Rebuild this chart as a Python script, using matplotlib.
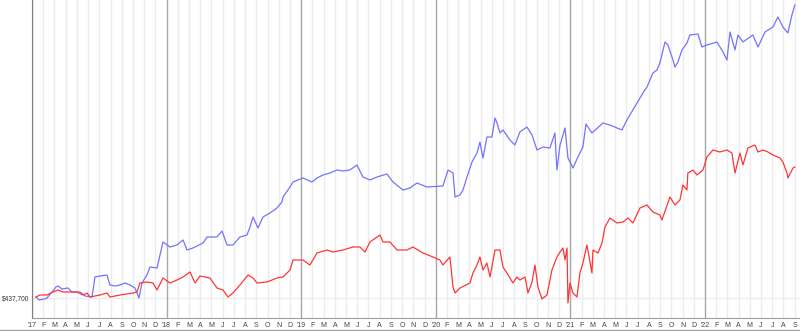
import matplotlib
matplotlib.use("Agg")
import matplotlib.pyplot as plt
from matplotlib.lines import Line2D

# time in years since 1 Jan 2017, value in $ thousands
blue_t = [0.030, 0.052, 0.089, 0.111, 0.149, 0.178, 0.193, 0.223, 0.267, 0.297,
          0.357, 0.394, 0.446, 0.468, 0.505, 0.557, 0.579, 0.617, 0.654, 0.691,
          0.728, 0.765, 0.795, 0.817, 0.854, 0.877, 0.929, 0.973, 1.025, 1.077,
          1.122, 1.152, 1.196, 1.270, 1.300, 1.374, 1.412, 1.449, 1.493, 1.545,
          1.597, 1.620, 1.642, 1.679, 1.716, 1.768, 1.820, 1.857, 1.865, 1.917,
          1.939, 2.013, 2.080, 2.117, 2.162, 2.214, 2.266, 2.310, 2.362, 2.414,
          2.459, 2.511, 2.563, 2.637, 2.682, 2.756, 2.808, 2.860, 2.934, 3.053,
          3.091, 3.128, 3.143, 3.180, 3.202, 3.232, 3.269, 3.306, 3.328, 3.351,
          3.380, 3.417, 3.440, 3.455, 3.477, 3.499, 3.551, 3.588, 3.625, 3.677,
          3.715, 3.752, 3.796, 3.848, 3.885, 3.900, 3.923, 3.960, 3.982, 4.019,
          4.056, 4.093, 4.116, 4.160, 4.242, 4.294, 4.383, 4.420, 4.517, 4.539,
          4.569, 4.613, 4.643, 4.665, 4.703, 4.725, 4.762, 4.777, 4.799, 4.829,
          4.866, 4.888, 4.948, 4.977, 5.015, 5.089, 5.134, 5.163, 5.186, 5.223,
          5.245, 5.282, 5.356, 5.394, 5.446, 5.505, 5.542, 5.579, 5.616, 5.646,
          5.668]
blue_v = [440.2, 432.7, 435.2, 437.7, 452.7, 465.2, 467.7, 460.2, 462.7, 452.7,
          452.7, 442.7, 440.2, 490.2, 492.7, 495.2, 470.2, 467.7, 470.2, 475.2,
          470.2, 462.7, 437.7, 475.2, 495.2, 515.2, 512.7, 577.7, 565.2, 570.2,
          582.7, 557.7, 562.7, 575.2, 590.2, 590.2, 605.2, 570.2, 570.2, 590.2,
          595.2, 615.2, 640.2, 612.7, 640.2, 650.2, 662.7, 677.7, 690.2, 715.2,
          727.7, 737.7, 727.7, 737.7, 745.2, 750.2, 757.7, 755.2, 757.7, 770.2,
          740.2, 732.7, 740.2, 747.7, 727.7, 707.7, 712.7, 725.2, 715.2, 717.7,
          757.7, 750.2, 690.2, 695.2, 707.7, 740.2, 777.7, 800.2, 827.7, 787.7,
          840.2, 840.2, 887.7, 875.2, 850.2, 857.7, 832.7, 820.2, 852.7, 865.2,
          845.2, 807.7, 815.2, 812.7, 850.2, 757.7, 820.2, 862.7, 787.7, 762.7,
          790.2, 815.2, 872.7, 850.2, 875.2, 870.2, 857.7, 882.7, 937.7, 950.2,
          965.2, 1000.2, 1007.7, 1025.2, 1077.7, 1070.2, 1032.7, 1015.2, 1027.7, 1057.7,
          1075.2, 1095.2, 1097.7, 1065.2, 1070.2, 1077.7, 1052.7, 1032.7, 1102.7, 1057.7,
          1095.2, 1077.7, 1095.2, 1065.2, 1102.7, 1115.2, 1140.2, 1115.2, 1100.2, 1145.2,
          1170.2]

red_t = [0.030, 0.059, 0.111, 0.156, 0.193, 0.230, 0.282, 0.334, 0.379, 0.409,
         0.431, 0.505, 0.557, 0.579, 0.654, 0.750, 0.780, 0.802, 0.854, 0.899,
         0.929, 0.973, 1.025, 1.077, 1.122, 1.174, 1.211, 1.248, 1.322, 1.374,
         1.419, 1.456, 1.493, 1.545, 1.605, 1.642, 1.672, 1.746, 1.820, 1.865,
         1.917, 1.939, 2.013, 2.065, 2.117, 2.192, 2.236, 2.310, 2.385, 2.437,
         2.474, 2.511, 2.585, 2.608, 2.660, 2.712, 2.786, 2.830, 2.905, 2.979,
         3.031, 3.053, 3.105, 3.128, 3.143, 3.180, 3.254, 3.276, 3.306, 3.328,
         3.351, 3.380, 3.403, 3.440, 3.477, 3.499, 3.529, 3.573, 3.603, 3.625,
         3.663, 3.685, 3.715, 3.737, 3.759, 3.789, 3.826, 3.863, 3.900, 3.923,
         3.945, 3.960, 3.975, 3.982, 3.997, 4.019, 4.049, 4.071, 4.093, 4.123,
         4.160, 4.168, 4.205, 4.235, 4.257, 4.294, 4.346, 4.391, 4.428, 4.465,
         4.517, 4.569, 4.613, 4.665, 4.680, 4.740, 4.777, 4.814, 4.836, 4.866,
         4.873, 4.911, 4.940, 4.985, 5.015, 5.059, 5.111, 5.163, 5.200, 5.223,
         5.260, 5.282, 5.319, 5.371, 5.394, 5.431, 5.468, 5.505, 5.557, 5.579,
         5.609, 5.616, 5.654, 5.668]
red_v = [440.2, 445.2, 445.2, 452.7, 457.7, 452.7, 452.7, 452.7, 445.2, 450.2,
         440.2, 445.2, 450.2, 440.2, 445.2, 450.2, 452.7, 475.2, 477.7, 475.2,
         457.7, 487.7, 475.2, 482.7, 490.2, 502.7, 475.2, 492.7, 487.7, 462.7,
         457.7, 440.2, 450.2, 470.2, 495.2, 487.7, 475.2, 477.7, 487.7, 490.2,
         507.7, 532.7, 532.7, 520.2, 550.2, 557.7, 552.7, 557.7, 565.2, 565.2,
         552.7, 577.7, 595.2, 577.7, 577.7, 557.7, 557.7, 565.2, 550.2, 540.2,
         532.7, 520.2, 540.2, 465.2, 450.2, 462.7, 475.2, 500.2, 520.2, 540.2,
         507.7, 525.2, 490.2, 557.7, 557.7, 515.2, 500.2, 475.2, 490.2, 482.7,
         490.2, 450.2, 477.7, 520.2, 465.2, 435.2, 445.2, 507.7, 540.2, 552.7,
         562.7, 532.7, 562.7, 425.2, 475.2, 450.2, 440.2, 500.2, 525.2, 570.2,
         500.2, 557.7, 550.2, 575.2, 615.2, 637.7, 625.2, 627.7, 637.7, 625.2,
         662.7, 670.2, 652.7, 645.2, 632.7, 690.2, 670.2, 682.7, 720.2, 707.7,
         750.2, 757.7, 745.2, 757.7, 790.2, 807.7, 802.7, 807.7, 800.2, 750.2,
         800.2, 770.2, 812.7, 820.2, 802.7, 807.7, 802.7, 795.2, 787.7, 777.7,
         750.2, 737.7, 762.7, 765.2]

start_value = 437.7
month_letters = ["", "F", "M", "A", "M", "J", "J", "A", "S", "O", "N", "D"]
years = [2017, 2018, 2019, 2020, 2021, 2022]
last_month = 8  # Sep 2022

plt.rcParams["font.family"] = ["Liberation Sans", "DejaVu Sans"]

fig = plt.figure(figsize=(8.0, 3.31), dpi=100)
ax = fig.add_axes([32 / 800, 13 / 331, 768 / 800, 318 / 331])

ticks, labels = [], []
for i, yr in enumerate(years):
    for m in range(12):
        if yr == years[-1] and m > last_month:
            break
        pos = i + m / 12
        ticks.append(pos)
        if m == 0:
            labels.append("'" + str(yr)[2:])
            ax.axvline(pos, color="#a8a8a8", lw=1.0, zorder=1)
        else:
            labels.append(month_letters[m])
            ax.axvline(pos, color="#ececec", lw=1.0, zorder=0)

ax.axhline(start_value, color="#ececec", lw=1.0, zorder=0)

ax.plot(blue_t, blue_v, color="#7373ff", lw=0.9, zorder=3)
ax.plot(red_t, red_v, color="#ff3535", lw=0.9, zorder=3)

ax.set_xlim(0, 5.706)
ax.set_ylim(387.7, 1182.7)

ax.set_xticks(ticks)
ax.set_xticklabels(labels, fontsize=5, color="#444444")
ax.set_yticks([start_value])
ax.set_yticklabels(["$437,700"], fontsize=4.8, color="#333333")
ax.tick_params(axis="x", length=0, pad=3)
ax.tick_params(axis="y", length=0, pad=2)

for s in ["top", "right"]:
    ax.spines[s].set_visible(False)
ax.spines["left"].set_color("#808080")
ax.spines["bottom"].set_color("#a0a0a0")

fig.add_artist(Line2D([0, 1], [1.5 / 331, 1.5 / 331], color="#a0a0a0", lw=1.0))

fig.savefig("out.png", dpi=100)
